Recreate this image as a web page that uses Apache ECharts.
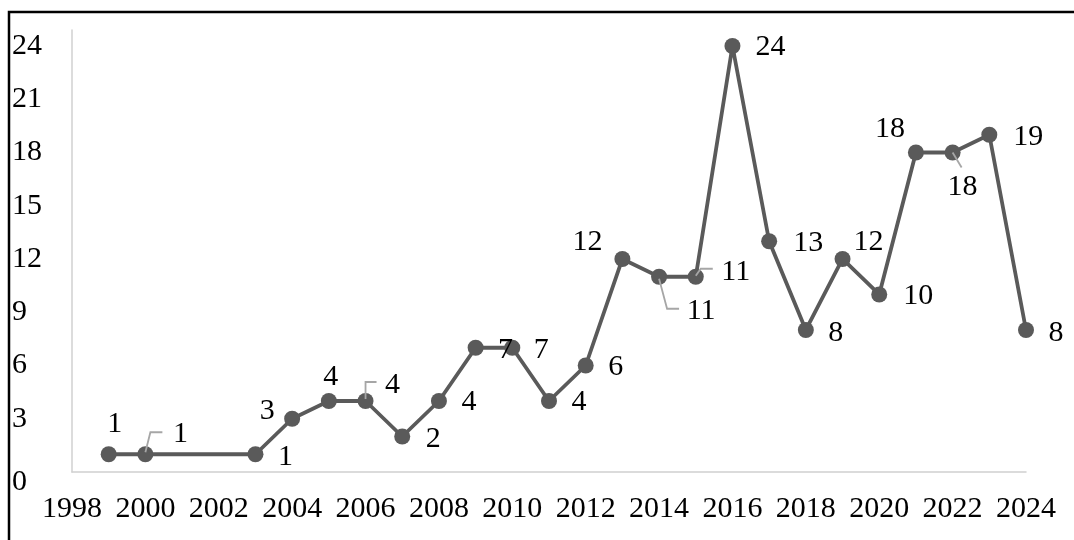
<!DOCTYPE html>
<html>
<head>
<meta charset="utf-8">
<script src="https://cdn.jsdelivr.net/npm/echarts@6/dist/echarts.min.js"></script>
<style>
  html, body { margin: 0; padding: 0; background: #fff; }
  #chart { width: 1074px; height: 540px; }
</style>
</head>
<body>
<div id="chart"></div>
<script>
// Publications per year
const years  = [1999, 2000, 2003, 2004, 2005, 2006, 2007, 2008, 2009, 2010, 2011, 2012,
                2013, 2014, 2015, 2016, 2017, 2018, 2019, 2020, 2021, 2022, 2023, 2024];
const counts = [1, 1, 1, 3, 4, 4, 2, 4, 7, 7, 4, 6,
                12, 11, 11, 24, 13, 8, 12, 10, 18, 18, 19, 8];
const xTicks = { min: 1998, max: 2024, step: 2 };
const yTicks = { min: 0, top: 24.9, step: 3 };

// Where each value label sits relative to its marker (pixels)
const labelOffsets = [
  [6, -30], [35, -20], [30, 3], [-25, -8], [2, -24], [27, -16], [31, 3], [30, 1],
  [30, 2], [29, 2], [30, 1], [30, 2], [-35, -17], [42, 34], [40, -5], [38, 1],
  [39, 2], [30, 3], [26, -17], [39, 2], [-26, -23], [10, 35], [39, 2], [30, 3]
];

// Callout leader lines for labels pushed away from their markers
const leaders = [
  { year: 2000, path: [[0, -2], [5, -22], [17, -22]] },
  { year: 2006, path: [[0, -2], [0, -19], [11, -19]] },
  { year: 2014, path: [[0, 2], [8, 32], [20, 32]] },
  { year: 2015, path: [[0, -1], [5, -8], [17, -8]] },
  { year: 2022, path: [[0, 0], [9, 15]] }
];

const FONT = '"Liberation Serif", "Times New Roman", serif';
const LINE = '#5a5a5a';
const AXIS = '#d0d0d0';
const FS = 30;

const chart = echarts.init(document.getElementById('chart'), null, { renderer: 'canvas' });

const option = {
  backgroundColor: '#fff',
  animation: false,
  graphic: [{
    type: 'rect',
    shape: { x: 9, y: 12, width: 1200, height: 700 },
    style: { fill: 'none', stroke: '#000', lineWidth: 2.5 },
    silent: true
  }],
  grid: { left: 72, right: 48, top: 30, bottom: 68, containLabel: false },
  xAxis: {
    type: 'value',
    min: xTicks.min, max: xTicks.max, interval: xTicks.step,
    axisLine: { show: true, lineStyle: { color: AXIS, width: 1.5 } },
    axisTick: { show: false },
    splitLine: { show: false },
    axisLabel: {
      color: '#000', fontFamily: FONT, fontSize: FS, margin: 22,
      formatter: v => String(v)
    }
  },
  yAxis: {
    type: 'value',
    min: yTicks.min, max: yTicks.top, interval: yTicks.step,
    axisLine: { show: true, lineStyle: { color: AXIS, width: 1.5 } },
    axisTick: { show: false },
    splitLine: { show: false },
    axisLabel: {
      color: '#000', fontFamily: FONT, fontSize: FS, margin: 60, align: 'left',
      showMaxLabel: false,
      formatter: v => v === 0 ? '{z|0}' : String(v),
      rich: { z: { fontFamily: FONT, fontSize: FS, color: '#000', padding: [20, 0, 0, 0] } }
    }
  },
  series: [
    {
      type: 'line',
      data: years.map((y, i) => ({
        value: [y, counts[i]],
        label: { offset: labelOffsets[i] }
      })),
      symbol: 'circle',
      symbolSize: 16,
      lineStyle: { color: LINE, width: 3.8 },
      itemStyle: { color: LINE },
      label: {
        show: true,
        position: 'inside',
        color: '#000',
        fontFamily: FONT,
        fontSize: FS,
        textBorderWidth: 0,
        formatter: p => String(p.value[1])
      },
      z: 2
    },
    {
      type: 'custom',
      data: leaders.map(l => [l.year, counts[years.indexOf(l.year)]]),
      renderItem: (params, api) => {
        const p = api.coord([api.value(0), api.value(1)]);
        const path = leaders[params.dataIndex].path;
        return {
          type: 'polyline',
          shape: { points: path.map(d => [p[0] + d[0], p[1] + d[1]]) },
          style: { stroke: '#a6a6a6', lineWidth: 1.8, fill: 'none' },
          z2: 10
        };
      },
      silent: true,
      z: 3
    }
  ]
};

chart.setOption(option);
</script>
</body>
</html>
